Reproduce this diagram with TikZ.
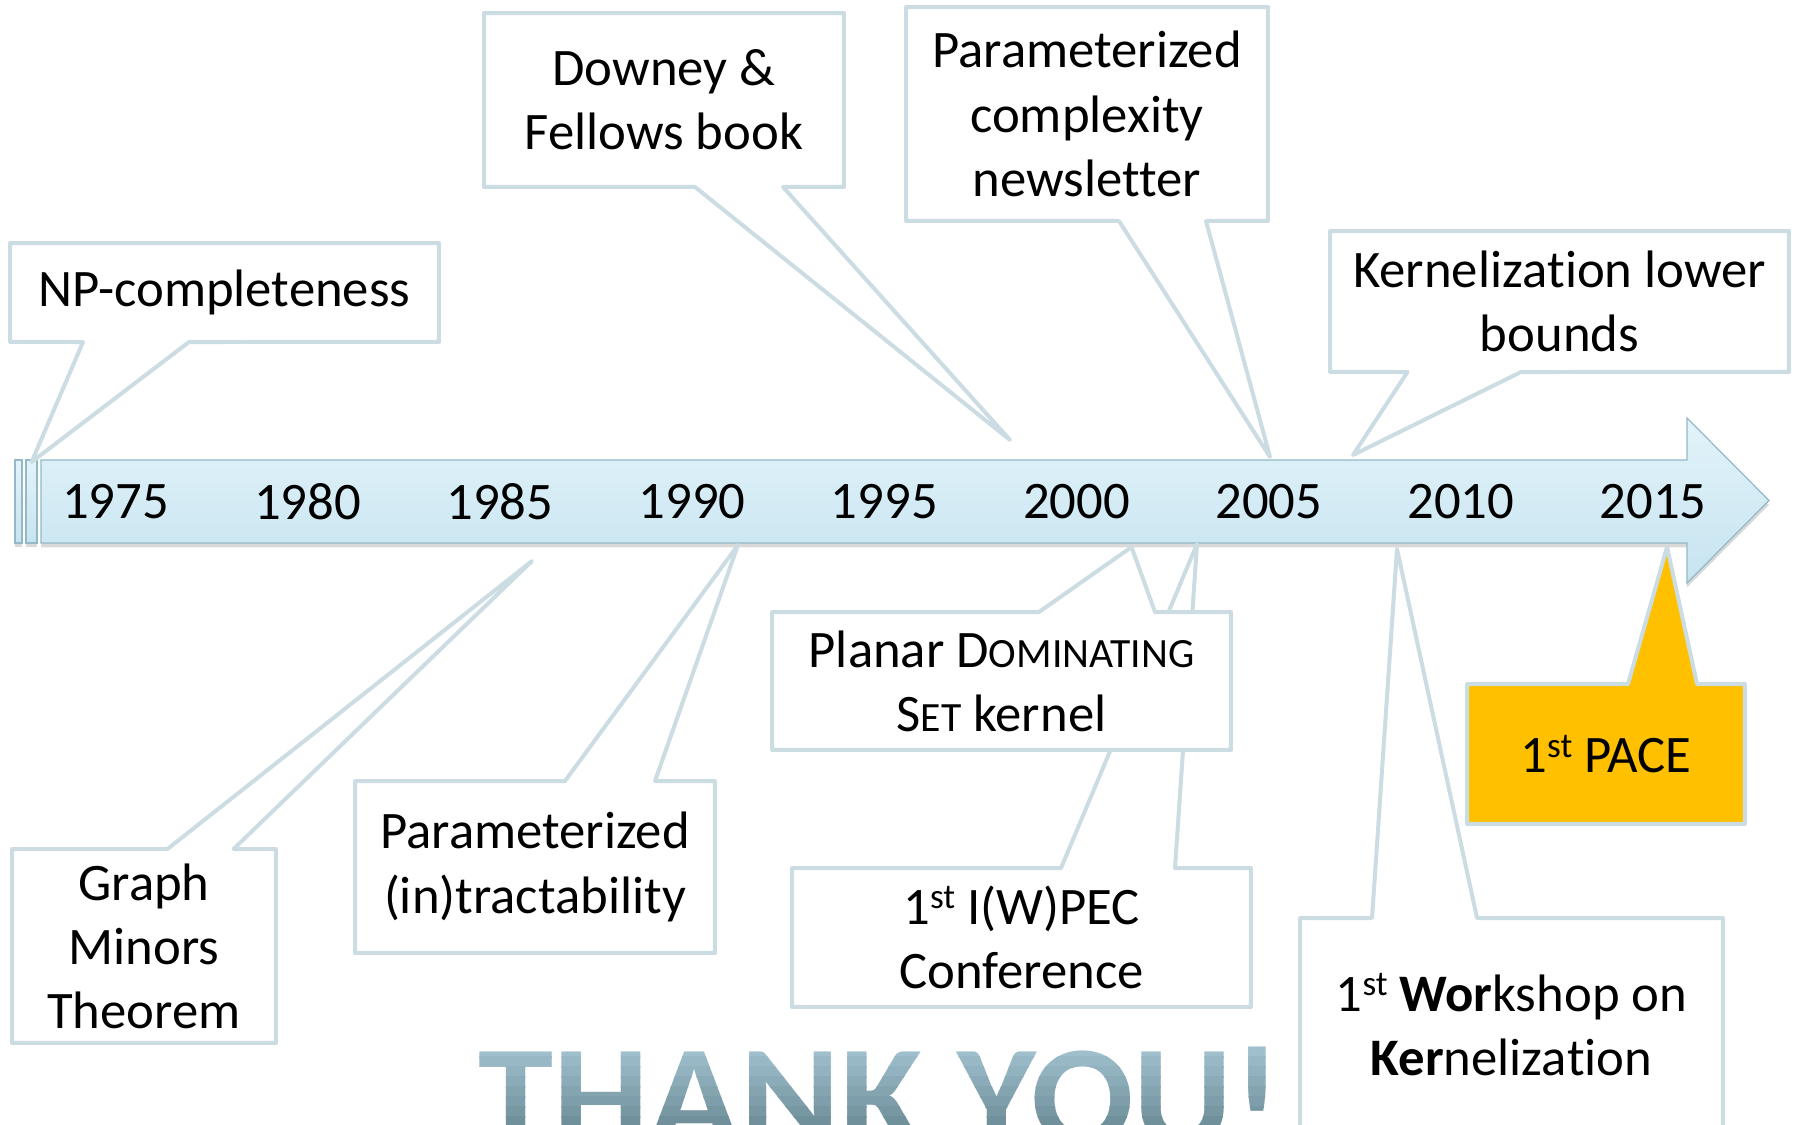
\documentclass[tikz,border=0pt]{standalone}
\usepackage{fontspec}
\setmainfont[Ligatures=NoCommon]{Carlito}
\usetikzlibrary{calc,shadows}
\pgfdeclarelayer{back}
\pgfsetlayers{back,main}

\definecolor{calloutline}{HTML}{CCDCE3}
\definecolor{bartop}{HTML}{E3F3FA}
\definecolor{barbottom}{HTML}{C6E4F0}
\definecolor{barline}{HTML}{93B8C8}
\definecolor{pacegold}{HTML}{FFC000}
\definecolor{thankstop}{HTML}{9EBFCB}
\definecolor{thanksbot}{HTML}{6A8A96}

% fake small capitals, ordinal superscripts, and a ligature breaker
\newcommand{\fakesc}[2]{#1{\fontsize{23.7}{28}\selectfont #2}}
\newcommand{\ordsup}[1]{\raisebox{9pt}{\fontsize{20}{20}\selectfont #1}}
\newcommand{\nolig}{\kern0pt\relax}

\begin{document}
\begin{tikzpicture}[
  x=0.02cm, y=-0.02cm,
  every node/.style={inner sep=0pt, outer sep=0pt},
  evtext/.style={font=\fontsize{30}{36.5}\selectfont, align=center, text=black},
  year/.style={font=\fontsize{30}{36}\selectfont},
  calloutshape/.style={draw=calloutline, fill=white, line width=0.08cm, line join=round},
  goldcallout/.style={calloutshape, fill=pacegold},
  timeline/.style={top color=bartop, bottom color=barbottom, draw=barline, line width=0.7pt,
    drop shadow={shadow xshift=0pt, shadow yshift=-2.5pt, opacity=0.3}},
  thanks/.style={font=\fontsize{83}{90}\selectfont\bfseries, anchor=base west, xscale=1.04},
]
\useasboundingbox (0,0) rectangle (1794,1125);

% ---- event boxes (text) ----
\node[evtext, minimum width=8.58cm, minimum height=1.98cm] (np) at (224.5,292.5) {NP-completeness};
\node[evtext, minimum width=7.2cm, minimum height=3.48cm] (dw) at (664,100) {Downey \&\\Fellows book};
\node[evtext, minimum width=7.24cm, minimum height=4.28cm] (nw) at (1087,114) {Parameterized\\complexity\\newsletter};
\node[evtext, minimum width=9.18cm, minimum height=2.82cm] (kl) at (1559.5,301.5) {Kerneliza\nolig tion lower\\bounds};
\node[evtext, minimum width=5.28cm, minimum height=3.88cm] (gm) at (144,946) {Graph\\Minors\\Theorem};
\node[evtext, minimum width=7.2cm, minimum height=3.44cm] (pi) at (535,867) {Parameterized\\(in)tractability};
\node[evtext, minimum width=9.18cm, minimum height=2.76cm] (pd) at (1001.5,681) {Planar \fakesc{D}{OMINATING}\\\fakesc{S}{ET} kernel};
\node[evtext, minimum width=9.18cm, minimum height=2.78cm] (iw) at (1021.5,937.5) {1\ordsup{st} I(W)PEC\\Conference};
\node[evtext, minimum width=5.56cm, minimum height=2.8cm] (pa) at (1606,754) {1\ordsup{st} PACE};
\node[evtext, minimum width=8.46cm, minimum height=4.26cm] (wk) at (1511.5,1024.5) {1\ordsup{st} \textbf{Wor}kshop on\\\textbf{Ker}neliza\nolig tion};

% ---- year labels on the timeline ----
\foreach \yr [count=\i from 0] in {1975,1980,1985,1990,1995,2000,2005,2010,2015}
  \node[year] (y\yr) at (115.5+192.2*\i,502) {\yr};

% ---- pointer tips on the timeline ----
\coordinate (tNP) at (31.6,462);
\coordinate (tDW) at (1010,440);
\coordinate (tNW) at (1270,457);
\coordinate (tKL) at (1353,455);
\coordinate (tGM) at (532,561);
\coordinate (tPI) at (738,545);
\coordinate (tPD) at (1131.5,547);
\coordinate (tIW) at (1197,544);
\coordinate (tPA) at (1667,547);
\coordinate (tWK) at (1397,549);

\begin{pgfonlayer}{back}
  % timeline arrow
  \path[timeline] (15,460) rectangle (22,543);
  \path[timeline] (26,460) rectangle (37,543);
  \path[timeline] (41,460) -- (1687,460) -- (1687,418) -- (1769,500.5)
        -- (1687,583) -- (1687,543) -- (41,543) -- cycle;

  % large closing words, shaded in horizontal bands
  \foreach \k in {0,...,8} {
    \pgfmathsetmacro\ya{1046+\k*10}
    \pgfmathsetmacro\yb{\ya+11}
    \pgfmathtruncatemacro\p{100-\k*12.5}
    \begin{scope}
      \clip (0,\ya) rectangle (1290,\yb);
      \node[thanks, text=thankstop!\p!thanksbot] (thanks\k) at (478,1146) {THANK YOU!};
    \end{scope}
  }

  % callouts above the timeline
  \path[calloutshape] (np.north west) -- (np.north east) -- (np.south east)
        -- (189,342) -- (tNP) -- (83,342) -- (np.south west) -- cycle;
  \path[calloutshape] (dw.north west) -- (dw.north east) -- (dw.south east)
        -- (783,187) -- (tDW) -- (695,187) -- (dw.south west) -- cycle;
  \path[calloutshape] (nw.north west) -- (nw.north east) -- (nw.south east)
        -- (1206,221) -- (tNW) -- (1119,221) -- (nw.south west) -- cycle;
  \path[calloutshape] (kl.north west) -- (kl.north east) -- (kl.south east)
        -- (1521,372) -- (tKL) -- (1407.5,372) -- (kl.south west) -- cycle;

  % callouts below the timeline
  \path[calloutshape] (gm.north west) -- (167.5,849) -- (tGM) -- (233.6,849)
        -- (gm.north east) -- (gm.south east) -- (gm.south west) -- cycle;
  \path[calloutshape] (pi.north west) -- (565,781) -- (tPI) -- (655,781)
        -- (pi.north east) -- (pi.south east) -- (pi.south west) -- cycle;
  \path[calloutshape] (iw.north west) -- (1061,868) -- (tIW) -- (1175,868)
        -- (iw.north east) -- (iw.south east) -- (iw.south west) -- cycle;
  \path[calloutshape] (pd.north west) -- (1039,612) -- (tPD) -- (1155,612)
        -- (pd.north east) -- (pd.south east) -- (pd.south west) -- cycle;
  \path[goldcallout] (pa.north west) -- (1628,684) -- (tPA) -- (1697,684)
        -- (pa.north east) -- (pa.south east) -- (pa.south west) -- cycle;
  \path[calloutshape] (wk.north west) -- (1372,918) -- (tWK) -- (1477,918)
        -- (wk.north east) -- (wk.south east) -- (wk.south west) -- cycle;
\end{pgfonlayer}
\end{tikzpicture}
\end{document}
